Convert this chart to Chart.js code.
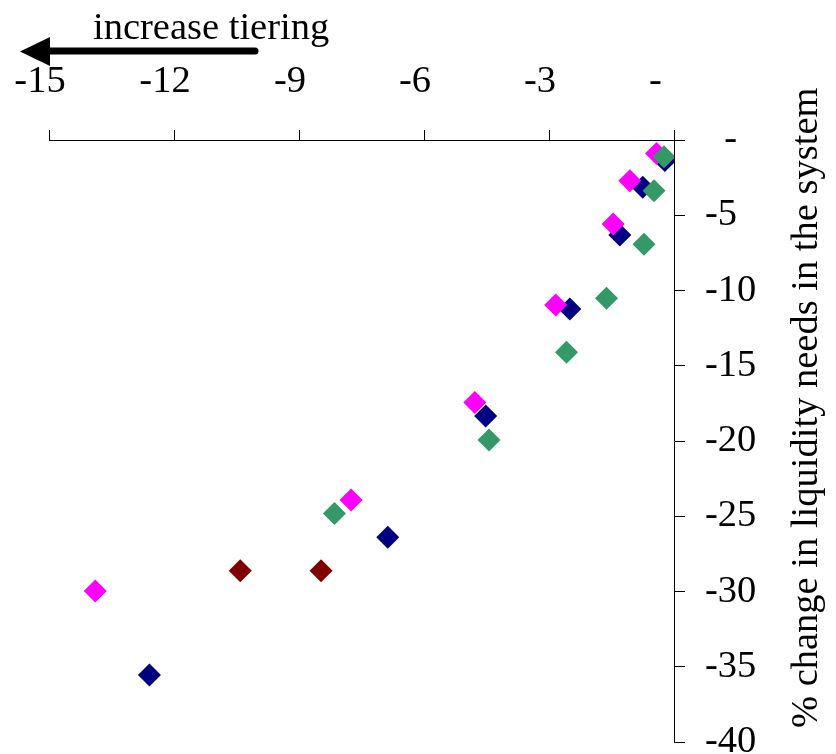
<!DOCTYPE html>
<html>
<head>
<meta charset="utf-8">
<script src="https://cdn.jsdelivr.net/npm/chart.js@4"></script>
<style>
html,body{margin:0;padding:0;background:#fff;}
#wrap{width:836px;height:754px;}
</style>
</head>
<body>
<div id="wrap"><canvas id="c" width="836" height="754"></canvas></div>
<script>
// ---- data ----
const xTickValues = [-15, -12, -9, -6, -3, 0];
const xTickLabels = ['-15', '-12', '-9', '-6', '-3', '-  '];
const yTickValues = [0, -5, -10, -15, -20, -25, -30, -35, -40];
const yTickLabels = ['  -', '-5', '-10', '-15', '-20', '-25', '-30', '-35', '-40'];

const magentaX = [-0.42, -1.06, -1.46, -2.84, -4.78, -7.75, -13.89];
const magentaY = [-0.89, -2.70, -5.58, -10.96, -17.45, -23.92, -29.97];
const navyX = [-0.22, -0.75, -1.30, -2.50, -4.52, -6.87, -12.59];
const navyY = [-1.37, -3.14, -6.31, -11.23, -18.34, -26.40, -35.55];
const greenX = [-0.24, -0.48, -0.72, -1.62, -2.58, -4.44, -8.15];
const greenY = [-1.11, -3.37, -6.93, -10.52, -14.11, -19.93, -24.81];
const redX = [-10.41, -8.47];
const redY = [-28.62, -28.62];

const yTitle = '% change in liquidity needs in the system';
const arrowLabel = 'increase tiering';

// ---- helpers ----
const FONT = 'Liberation Serif, "Times New Roman", serif';
const FSIZE = 38.5;
const pts = (xs, ys) => xs.map((x, i) => ({x: x, y: ys[i]}));
const ds = (label, xs, ys, color, order) => ({
  label: label, data: pts(xs, ys), order: order,
  pointStyle: 'rectRot', pointRadius: 11.5, pointHoverRadius: 11.5,
  backgroundColor: color, borderColor: color, borderWidth: 0, showLine: false
});

const annotations = {
  id: 'annotations',
  afterDraw(chart) {
    const ctx = chart.ctx;
    ctx.save();
    // arrow
    ctx.fillStyle = '#000';
    ctx.strokeStyle = '#000';
    ctx.lineWidth = 7;
    ctx.lineCap = 'round';
    ctx.beginPath();
    ctx.moveTo(255, 51);
    ctx.lineTo(45, 51);
    ctx.stroke();
    ctx.beginPath();
    ctx.moveTo(20, 51.5);
    ctx.lineTo(50, 37);
    ctx.lineTo(50, 66);
    ctx.closePath();
    ctx.fill();
    // arrow label
    ctx.font = FSIZE + 'px ' + FONT;
    ctx.textAlign = 'left';
    ctx.textBaseline = 'alphabetic';
    ctx.fillText(arrowLabel, 93, 39);
    // y title (reads bottom to top)
    ctx.translate(817, 728);
    ctx.rotate(-Math.PI / 2);
    ctx.fillText(yTitle, 0, 0);
    ctx.restore();
  }
};

new Chart(document.getElementById('c'), {
  type: 'scatter',
  data: {
    datasets: [
      ds('green', greenX, greenY, '#339966', 0),
      ds('magenta', magentaX, magentaY, '#FF00FF', 1),
      ds('navy', navyX, navyY, '#000080', 2),
      ds('darkred', redX, redY, '#800000', 3)
    ]
  },
  options: {
    responsive: false,
    animation: false,
    devicePixelRatio: 1,
    layout: {padding: {left: 49, top: 0, right: 0, bottom: 12}},
    plugins: {legend: {display: false}, tooltip: {enabled: false}},
    scales: {
      x: {
        type: 'linear', position: 'top', min: -15, max: 0,
        afterBuildTicks: s => { s.ticks = xTickValues.map(v => ({value: v})); },
        ticks: {
          callback: v => xTickLabels[xTickValues.indexOf(v)],
          font: {family: FONT, size: FSIZE}, color: '#000',
          padding: 25, labelOffset: -9, maxRotation: 0, autoSkip: false
        },
        grid: {drawOnChartArea: false, drawTicks: true, tickLength: 10, color: '#000', tickColor: '#000', tickWidth: 1},
        border: {display: true, color: '#000', width: 1},
        afterFit: s => { s.height = 140; s.paddingLeft = 0; s.paddingRight = 0; }
      },
      y: {
        type: 'linear', position: 'right', min: -40, max: 0,
        afterBuildTicks: s => { s.ticks = yTickValues.map(v => ({value: v})); },
        ticks: {
          callback: v => yTickLabels[yTickValues.indexOf(v)],
          font: {family: FONT, size: FSIZE}, color: '#000',
          padding: 20, autoSkip: false
        },
        grid: {drawOnChartArea: false, drawTicks: true, tickLength: 11, color: '#000', tickColor: '#000', tickWidth: 1},
        border: {display: true, color: '#000', width: 1},
        afterFit: s => { s.width = 162; s.paddingTop = 0; s.paddingBottom = 0; }
      }
    }
  },
  plugins: [annotations]
});
</script>
</body>
</html>
